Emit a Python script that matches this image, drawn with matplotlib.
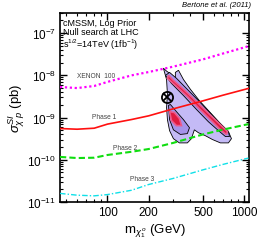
import numpy as np
import matplotlib
matplotlib.use("Agg")
import matplotlib.pyplot as plt
from matplotlib.ticker import FixedLocator, NullFormatter, LogLocator

plt.rcParams['font.family'] = ['Liberation Sans', 'DejaVu Sans']
plt.rcParams['mathtext.fontset'] = 'custom'
plt.rcParams['mathtext.rm'] = 'Liberation Sans'
plt.rcParams['mathtext.it'] = 'Liberation Sans:italic'
plt.rcParams['mathtext.bf'] = 'Liberation Sans:bold'

# --- limit curves (mass in GeV, sigma in pb) ---
mass = [45, 60, 80, 100, 150, 200, 300, 500, 700, 1070]
xenon100 = [5.3e-9, 5.0e-9, 5.6e-9, 7.0e-9, 1.0e-8, 1.2e-8, 1.6e-8, 2.4e-8, 3.3e-8, 4.9e-8]
phase1 = [5.5e-10, 5.3e-10, 5.6e-10, 7.0e-10, 9.0e-10, 1.1e-9, 1.6e-9, 2.5e-9, 3.4e-9, 4.9e-9]
phase2 = [1.17e-10, 1.1e-10, 1.12e-10, 1.3e-10, 1.55e-10, 1.8e-10, 2.5e-10, 4.0e-10, 5.2e-10, 7.0e-10]
phase3 = [1.6e-11, 1.45e-11, 1.4e-11, 1.5e-11, 1.9e-11, 2.6e-11, 3.6e-11, 5.8e-11, 7.8e-11, 1.1e-10]

# --- posterior regions (mass in GeV, log10 sigma in pb) ---
outer_m = [256, 270, 274, 270, 274, 284, 303, 335, 383, 410, 431, 462, 519, 584,
           668, 764, 804, 764, 657, 555, 469, 403, 359, 330, 313, 313, 284, 270]
outer_s = [-7.83, -8.10, -8.45, -8.76, -9.05, -9.31, -9.50, -9.60, -9.60, -9.50, -9.29,
           -9.36, -9.43, -9.52, -9.60, -9.60, -9.50, -9.33, -9.12, -8.86, -8.60, -8.33,
           -8.10, -7.88, -7.93, -8.19, -7.95, -7.90]
innerA_m = [265, 293, 359, 447, 546, 657, 727, 778, 764, 679, 565, 462, 377, 319, 284]
innerA_s = [-8.00, -8.19, -8.48, -8.81, -9.10, -9.33, -9.45, -9.45, -9.33, -9.17, -8.90,
            -8.60, -8.31, -8.07, -7.93]
innerB_m = [279, 284, 303, 341, 383, 397, 359, 319, 288]
innerB_s = [-8.71, -9.05, -9.29, -9.40, -9.38, -9.24, -9.05, -8.86, -8.69]
coreA_m = [274, 313, 383, 469, 574, 679, 739, 752, 668, 546, 439, 359, 303, 279]
coreA_s = [-8.07, -8.24, -8.50, -8.79, -9.07, -9.31, -9.40, -9.33, -9.17, -8.90, -8.60,
           -8.33, -8.12, -8.00]
coreB_m = [284, 293, 319, 347, 335, 308]
coreB_s = [-8.86, -9.07, -9.19, -9.19, -9.02, -8.88]

best_fit_m = 274
best_fit_s = 3.0e-9

fig = plt.figure(figsize=(2.66, 2.53), dpi=100)
ax = fig.add_axes([0.2256, 0.1976, 0.7105, 0.7471])
ax.set_xscale("log")
ax.set_yscale("log")


def fill_region(m, s, color, lw=0.6, edge="black"):
    ax.fill(m, np.power(10.0, s), facecolor=color, edgecolor=edge, linewidth=lw, zorder=2)


fill_region(outer_m, outer_s, "#c4baf6")
fill_region(innerA_m, innerA_s, "#a592ea")
fill_region(innerB_m, innerB_s, "#a592ea")
fill_region(coreA_m, coreA_s, "#e01a40", lw=1.2, edge="#ec5a8a")
fill_region(coreB_m, coreB_s, "#e01a40", lw=1.2, edge="#ec5a8a")

ax.plot(mass, xenon100, color="#ff00ff", linestyle=(0, (1, 1.2)), linewidth=1.6, zorder=3)
ax.plot(mass, phase1, color="#ff1010", linestyle="-", linewidth=1.2, zorder=3)
ax.plot(mass, phase2, color="#10dd10", linestyle=(0, (3, 1.5)), linewidth=1.5, zorder=3)
ax.plot(mass, phase3, color="#10e0e8", linestyle=(0, (4, 1.5, 1, 1.5)), linewidth=1.0, zorder=3)

# best fit marker
ax.plot(best_fit_m, best_fit_s, marker="o", ms=8, mfc="none", mec="black", mew=1.3, zorder=5)
ax.plot(best_fit_m, best_fit_s, marker="x", ms=5.5, mec="black", mew=1.3, zorder=5)

lab = dict(fontsize=4.8, color="#444444", ha="center", va="center", zorder=4)
ax.text(83, 1.0e-8, "XENON  100", **lab)
ax.text(95, 1.06e-9, "Phase 1", **lab)
ax.text(135, 1.93e-10, "Phase 2", **lab)
ax.text(180, 3.7e-11, "Phase 3", **lab)

ax.text(0.016, 0.975, "cMSSM, Log Prior\nNull search at LHC\ns$^{1/2}$=14TeV (1fb$^{-1}$)",
        transform=ax.transAxes, fontsize=6.5, ha="left", va="top", linespacing=1.05)

ax.text(1.01, 1.025, "Bertone et al. (2011)", transform=ax.transAxes, fontsize=5.5,
        style="italic", ha="right", va="bottom")

ax.set_xlim(45, 1080)
ax.set_ylim(1e-11, 3.0e-7)

ax.xaxis.set_major_locator(FixedLocator([100, 200, 500, 1000]))
ax.xaxis.set_minor_locator(FixedLocator([50, 60, 70, 80, 90, 300, 400, 600, 700, 800, 900]))
ax.set_xticklabels(["100", "200", "500", "1000"])
ax.xaxis.set_minor_formatter(NullFormatter())
ax.yaxis.set_major_locator(FixedLocator([1e-11, 1e-10, 1e-9, 1e-8, 1e-7]))
ax.yaxis.set_minor_locator(LogLocator(base=10, subs=np.arange(2, 10), numticks=20))
ax.yaxis.set_minor_formatter(NullFormatter())
ax.set_yticklabels(["$10^{-11}$", "$10^{-10}$", "$10^{-9}$", "$10^{-8}$", "$10^{-7}$"])

ax.tick_params(which="both", direction="in", top=True, right=True, labelsize=8.5, pad=3)
ax.tick_params(which="major", length=5, width=1.0)
ax.tick_params(which="minor", length=2.5, width=0.8)
for sp in ax.spines.values():
    sp.set_linewidth(1.2)

ax.set_xlabel(r"m$_{\chi^{\,o}_1}$ (GeV)", fontsize=9.5, labelpad=2)
ax.set_ylabel(r"$\sigma^{SI}_{\chi\ p}$ (pb)", fontsize=9.5, labelpad=0)

fig.savefig("out.png", dpi=100)
